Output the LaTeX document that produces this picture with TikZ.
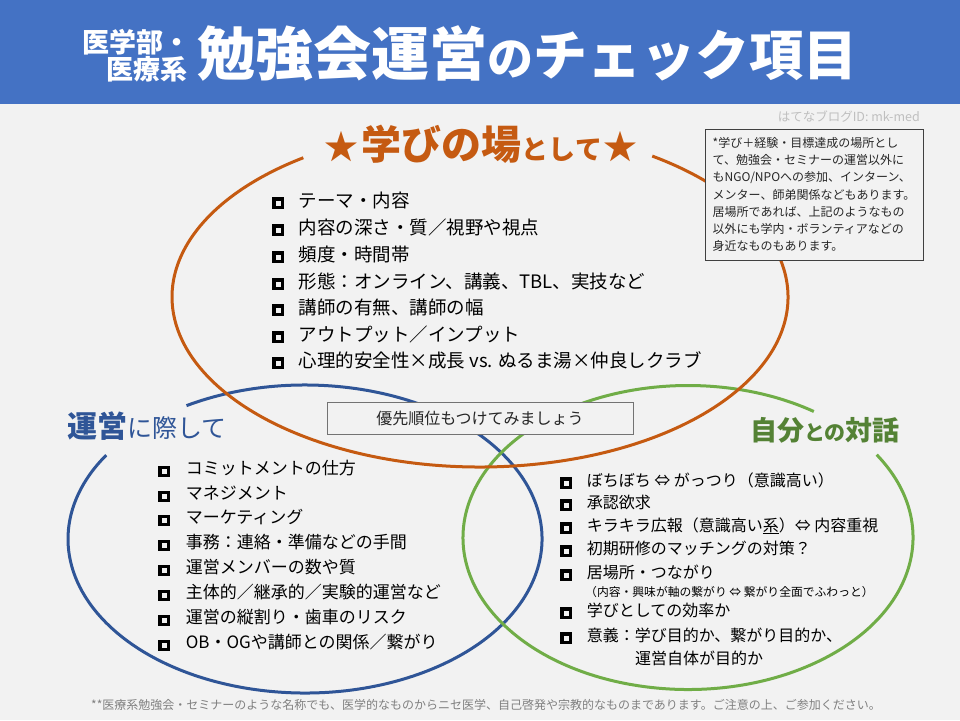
\documentclass[tikz,border=0pt]{standalone}
\usepackage{fontspec}
\setmainfont{Noto Sans CJK JP}
\usetikzlibrary{calc}
\definecolor{bgc}{HTML}{F2F2F2}
\definecolor{hdr}{HTML}{4472C4}
\definecolor{org}{HTML}{C55A11}
\definecolor{blu}{HTML}{2F5597}
\definecolor{grn}{HTML}{70AD47}
\definecolor{grnt}{HTML}{548235}
\definecolor{notec}{HTML}{404040}
\definecolor{idc}{HTML}{BFBFBF}
\definecolor{footc}{HTML}{808080}
\newcommand\cbx{\raisebox{\dimexpr.38em-5.8pt\relax}{\setlength\fboxrule{3.3pt}\setlength\fboxsep{0pt}\fbox{\rule{5pt}{0pt}\rule{0pt}{5pt}}}}
\begin{document}
\begin{tikzpicture}[x=1pt,y=-1pt,
  ring/.style={line width=3pt},
  item/.style={anchor=base west, inner sep=0pt, text=black},
  topitem/.style={item, font=\fontsize{18.5}{22}\selectfont},
  bluitem/.style={item, font=\fontsize{17}{20}\selectfont},
  grnitem/.style={item, font=\fontsize{16}{19}\selectfont},
]
\useasboundingbox (0,0) rectangle (960,720);
\fill[bgc] (0,0) rectangle (960,720);
\fill[hdr] (0,0) rectangle (960,104);

% header texts
\node[anchor=base east, inner sep=0pt, text=white, font=\fontsize{27}{27}\selectfont\bfseries] (sub1) at (191,52.3) {医学部・};
\node[anchor=base east, inner sep=0pt, text=white, font=\fontsize{27}{27}\selectfont\bfseries] (sub2) at (188,79.3) {医療系};
\node[anchor=base west, inner sep=0pt, text=white, font=\bfseries] (title) at (197,75.5)
  {\fontsize{58}{58}\selectfont 勉強会運営\fontsize{46}{46}\selectfont の\fontsize{54}{54}\selectfont チェック項目};

\node[anchor=base east, inner sep=0pt, text=idc, font=\fontsize{12.5}{14}\selectfont] (blogid) at (920,121.7) {はてなブログID: mk-med};

% ellipse centres
\coordinate (oc) at (480,297);
\coordinate (bc) at (305,539);
\coordinate (gc) at (688,537.5);

\draw[ring, blu] ([shift={(120:237pt and 154pt)}]bc) arc[start angle=120, end angle=-213, x radius=237pt, y radius=154pt];
\draw[ring, grn] ([shift={(33:225pt and 152pt)}]gc) arc[start angle=33, end angle=-304, x radius=225pt, y radius=152pt];
\draw[ring, org] ([shift={(56:308pt and 170pt)}]oc) arc[start angle=56, end angle=-235, x radius=308pt, y radius=170pt];

% section titles
\node[anchor=base, inner sep=0pt, text=org, font=\bfseries] (ttop) at (481,159.7)
  {{\fontsize{34}{34}\selectfont ★}\hspace{3pt}{\fontsize{40}{40}\selectfont 学びの場}{\fontsize{27}{27}\selectfont として}\hspace{1pt}{\fontsize{34}{34}\selectfont ★}};
\node[anchor=base west, inner sep=0pt, text=blu] (tblu) at (67,437.4)
  {{\fontsize{30}{30}\selectfont\bfseries 運営}{\fontsize{25}{25}\selectfont に際して}};
\node[anchor=base, inner sep=0pt, text=grnt, font=\bfseries] (tgrn) at (825,440)
  {{\fontsize{27}{27}\selectfont 自分}{\fontsize{21}{21}\selectfont との}{\fontsize{27}{27}\selectfont 対話}};

% note box
\node[draw=notec, line width=1pt, fill=bgc, minimum width=218pt, minimum height=131pt, inner sep=0pt,
  align=left, text=black!85, font=\fontsize{12}{17.2}\selectfont] (note) at (814,194.5)
  {*学び＋経験・目標達成の場所とし\\て、勉強会・セミナーの運営以外に\\もNGO/NPOへの参加、インターン、\\メンター、師弟関係などもあります。\\居場所であれば、上記のようなもの\\以外にも学内・ボランティアなどの\\身近なものもあります。};

% priority box
\node[draw=black!55, line width=1pt, fill=bgc, minimum width=306pt, minimum height=32pt, inner sep=0pt,
  text=black!85, font=\fontsize{16}{18}\selectfont] (prio) at (480,418) {優先順位もつけてみましょう};

% top list
\node[topitem] (o1) at (272,207) {\cbx\hspace{15pt}テーマ・内容};
\node[topitem] (o2) at (272,234) {\cbx\hspace{15pt}内容の深さ・質／視野や視点};
\node[topitem] (o3) at (272,261) {\cbx\hspace{15pt}頻度・時間帯};
\node[topitem] (o4) at (272,288) {\cbx\hspace{15pt}形態：オンライン、講義、TBL、実技など};
\node[topitem] (o5) at (272,314) {\cbx\hspace{15pt}講師の有無、講師の幅};
\node[topitem] (o6) at (272,341) {\cbx\hspace{15pt}アウトプット／インプット};
\node[topitem] (o7) at (272,367) {\cbx\hspace{15pt}心理的安全性×成長 vs. ぬるま湯×仲良しクラブ};

% blue list
\node[bluitem] (b1) at (158,474.5) {\cbx\hspace{16pt}コミットメントの仕方};
\node[bluitem] (b2) at (158,499.5) {\cbx\hspace{16pt}マネジメント};
\node[bluitem] (b3) at (158,523.5) {\cbx\hspace{16pt}マーケティング};
\node[bluitem] (b4) at (158,548.5) {\cbx\hspace{16pt}事務：連絡・準備などの手間};
\node[bluitem] (b5) at (158,573.5) {\cbx\hspace{16pt}運営メンバーの数や質};
\node[bluitem] (b6) at (158,598.5) {\cbx\hspace{16pt}主体的／継承的／実験的運営など};
\node[bluitem] (b7) at (158,623.5) {\cbx\hspace{16pt}運営の縦割り・歯車のリスク};
\node[bluitem] (b8) at (158,648.5) {\cbx\hspace{16pt}OB・OGや講師との関係／繋がり};

% green list
\node[grnitem] (g1) at (560,486) {\cbx\hspace{15pt}ぼちぼち ⇔ がっつり（意識高い）};
\node[grnitem] (g2) at (560,508) {\cbx\hspace{15pt}承認欲求};
\node[grnitem] (g3) at (560,531) {\cbx\hspace{15pt}キラキラ広報（意識高い\underline{系}）⇔ 内容重視};
\node[grnitem] (g4) at (560,554) {\cbx\hspace{15pt}初期研修のマッチングの対策？};
\node[grnitem] (g5) at (560,578) {\cbx\hspace{15pt}居場所・つながり};
\node[item, font=\fontsize{11.8}{14}\selectfont] (g5s) at (585,596.5) {（内容・興味が軸の繋がり ⇔ 繋がり全面でふわっと）};
\node[grnitem] (g6) at (560,616) {\cbx\hspace{15pt}学びとしての効率か};
\node[grnitem] (g7) at (560,641) {\cbx\hspace{15pt}意義：学び目的か、繋がり目的か、};
\node[grnitem] (g7s) at (635,664) {運営自体が目的か};

% footer
\node[anchor=base, inner sep=0pt, text=footc, font=\fontsize{12}{14}\selectfont] (foot) at (486,709.6)
  {**医療系勉強会・セミナーのような名称でも、医学的なものからニセ医学、自己啓発や宗教的なものまであります。ご注意の上、ご参加ください。};
\end{tikzpicture}
\end{document}
